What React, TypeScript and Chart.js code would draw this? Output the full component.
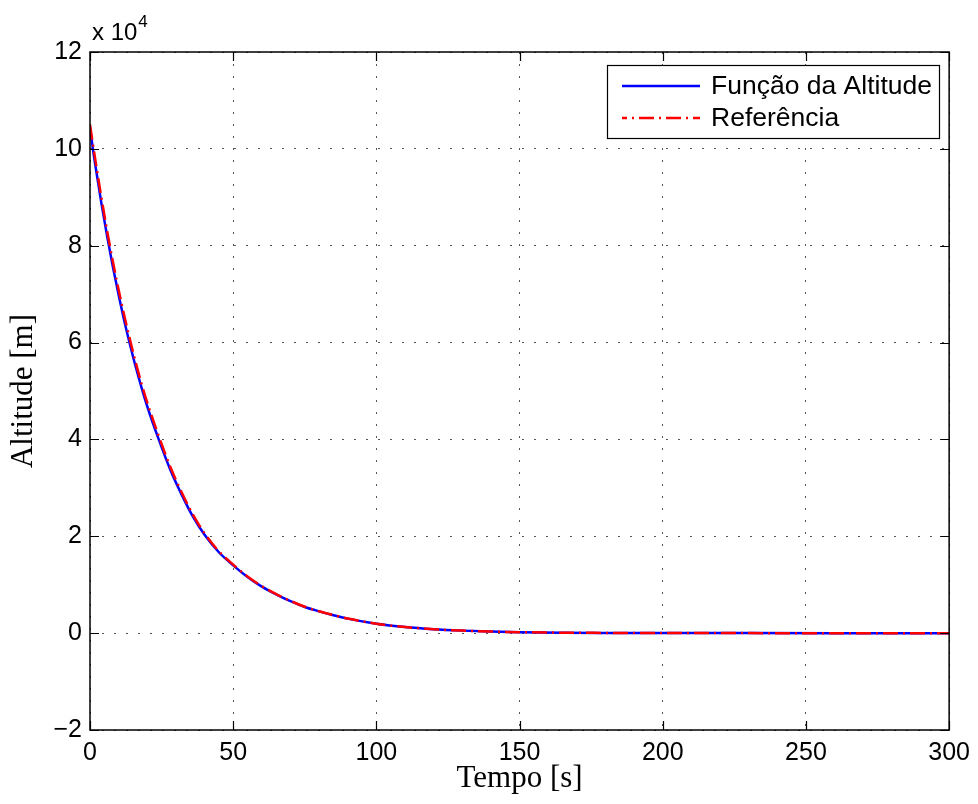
import React, { useEffect, useRef } from "react";
import { Chart, registerables } from "chart.js";

Chart.register(...registerables);

// Time [s] and altitude [m]
const altTime = [0, 1, 2, 4, 6, 8, 10, 12, 14, 16, 18, 20, 24, 28, 32, 36, 40, 45, 50, 55, 60, 66, 70, 75, 80, 85, 90, 100, 110, 120, 130, 140, 150, 165, 180, 200, 230, 260, 300];
const altValues = [104500, 100000, 96100, 88700, 81900, 75600, 69800, 64400, 59500, 54900, 50700, 46800, 40000, 33800, 28600, 24000, 20300, 16700, 14000, 11600, 9600, 7700, 6600, 5400, 4500, 3700, 3000, 1950, 1250, 800, 520, 330, 200, 100, 50, 20, 5, 0, 0];

const refTime = [0, 2, 4, 6, 8, 10, 12, 14, 16, 18, 20, 24, 28, 32, 36, 40, 45, 50, 55, 60, 66, 70, 75, 80, 85, 90, 100, 110, 120, 130, 140, 150, 165, 180, 200, 230, 260, 300];
const refValues = [105000, 97200, 89900, 83000, 76700, 70900, 65500, 60500, 55800, 51500, 47600, 40700, 34400, 29100, 24400, 20600, 16900, 14150, 11700, 9700, 7750, 6650, 5450, 4520, 3720, 3020, 1960, 1260, 805, 525, 335, 200, 100, 50, 20, 5, 0, 0];

const seriesLabels = ["Função da Altitude", "Referência"];
const xTicks = [0, 50, 100, 150, 200, 250, 300];
const yTicks = [-20000, 0, 20000, 40000, 60000, 80000, 100000, 120000];

const SANS = "'Liberation Sans', Arial, Helvetica, sans-serif";
const SERIF = "'Liberation Serif', 'Times New Roman', serif";

const framePlugin = {
  id: "matlabFrame",
  afterDraw(chart: any) {
    const { ctx, chartArea } = chart;
    const { left, right, top, bottom } = chartArea;
    const xs = chart.scales.x;
    const ys = chart.scales.y;
    const tl = 9;
    ctx.save();
    ctx.strokeStyle = "#000";
    ctx.lineWidth = 1.2;
    ctx.setLineDash([]);
    ctx.beginPath();
    xTicks.forEach((v) => {
      const px = Math.round(xs.getPixelForValue(v)) + 0.5;
      ctx.moveTo(px, bottom);
      ctx.lineTo(px, bottom - tl);
      ctx.moveTo(px, top);
      ctx.lineTo(px, top + tl);
    });
    yTicks.forEach((v) => {
      const py = Math.round(ys.getPixelForValue(v)) + 0.5;
      ctx.moveTo(left, py);
      ctx.lineTo(left + tl, py);
      ctx.moveTo(right, py);
      ctx.lineTo(right - tl, py);
    });
    ctx.stroke();
    ctx.lineWidth = 1.5;
    ctx.strokeRect(left, top, right - left, bottom - top);

    // exponent label
    ctx.fillStyle = "#000";
    ctx.textBaseline = "alphabetic";
    ctx.textAlign = "left";
    ctx.font = `24px ${SANS}`;
    ctx.fillText("x 10", left + 2, top - 12);
    const w = ctx.measureText("x 10").width;
    ctx.font = `17px ${SANS}`;
    ctx.fillText("4", left + 2 + w + 1, top - 25);

    // legend
    const bx = 607, by = 65, bw = 332, bh = 73;
    ctx.fillStyle = "#fff";
    ctx.fillRect(bx, by, bw, bh);
    ctx.lineWidth = 1.2;
    ctx.strokeStyle = "#000";
    ctx.strokeRect(bx + 0.5, by + 0.5, bw, bh);
    const rows = [86, 118];
    chart.data.datasets.forEach((ds: any, i: number) => {
      const y = rows[i];
      ctx.save();
      ctx.strokeStyle = ds.borderColor;
      ctx.lineWidth = ds.borderWidth;
      ctx.setLineDash(ds.borderDash || []);
      ctx.lineDashOffset = 10;
      ctx.beginPath();
      ctx.moveTo(622, y);
      ctx.lineTo(700, y);
      ctx.stroke();
      ctx.restore();
      ctx.fillStyle = "#000";
      ctx.font = `26.5px ${SANS}`;
      ctx.textBaseline = "middle";
      ctx.fillText(ds.label, 711, y + 1);
    });
    ctx.restore();
  },
};

export default function App() {
  const ref = useRef<HTMLCanvasElement | null>(null);
  useEffect(() => {
    if (!ref.current) return;
    const chart = new Chart(ref.current, {
      type: "line",
      data: {
        datasets: [
          {
            label: seriesLabels[0],
            data: altTime.map((t, i) => ({ x: t, y: altValues[i] })),
            borderColor: "#0000ff",
            borderWidth: 2.5,
            pointRadius: 0,
            cubicInterpolationMode: "monotone",
            fill: false,
            order: 2,
          },
          {
            label: seriesLabels[1],
            data: refTime.map((t, i) => ({ x: t, y: refValues[i] })),
            borderColor: "#ff0000",
            borderWidth: 2.5,
            borderDash: [15, 5, 2, 5],
            pointRadius: 0,
            cubicInterpolationMode: "monotone",
            fill: false,
            order: 1,
          },
        ],
      },
      options: {
        responsive: false,
        animation: false,
        layout: { padding: { top: 52, right: 26, left: 0, bottom: 0 } },
        plugins: { legend: { display: false }, tooltip: { enabled: false } },
        scales: {
          x: {
            type: "linear",
            min: 0,
            max: 300,
            afterFit: (s: any) => {
              s.height = 74;
            },
            afterBuildTicks: (s: any) => {
              s.ticks = xTicks.map((v) => ({ value: v }));
            },
            ticks: {
              font: { family: SANS, size: 25 },
              color: "#000",
              padding: 8,
              maxRotation: 0,
            },
            grid: { color: "#555", lineWidth: 1, drawTicks: false },
            border: { display: false, dash: [2, 10] },
            title: {
              display: true,
              text: "Tempo [s]",
              font: { family: SERIF, size: 31 },
              color: "#000",
              padding: { top: 0, bottom: 7 },
            },
          },
          y: {
            type: "linear",
            min: -20000,
            max: 120000,
            afterFit: (s: any) => {
              s.width = 90;
            },
            afterBuildTicks: (s: any) => {
              s.ticks = yTicks.map((v) => ({ value: v }));
            },
            ticks: {
              font: { family: SANS, size: 25 },
              color: "#000",
              padding: 8,
              callback: (v: any) => {
                const n = Number(v) / 10000;
                return n < 0 ? "\u2212" + Math.abs(n) : String(n);
              },
            },
            grid: { color: "#555", lineWidth: 1, drawTicks: false },
            border: { display: false, dash: [2, 10] },
            title: {
              display: true,
              text: "Altitude [m]",
              font: { family: SERIF, size: 31 },
              color: "#000",
              padding: { top: 5, bottom: 0 },
            },
          },
        },
      },
      plugins: [framePlugin],
    });
    return () => chart.destroy();
  }, []);
  return (
    <div style={{ position: "absolute", left: 0, top: 0, width: 978, height: 804, background: "#fff" }}>
      <canvas ref={ref} width={978} height={804} style={{ width: 978, height: 804, display: "block" }} />
    </div>
  );
}
